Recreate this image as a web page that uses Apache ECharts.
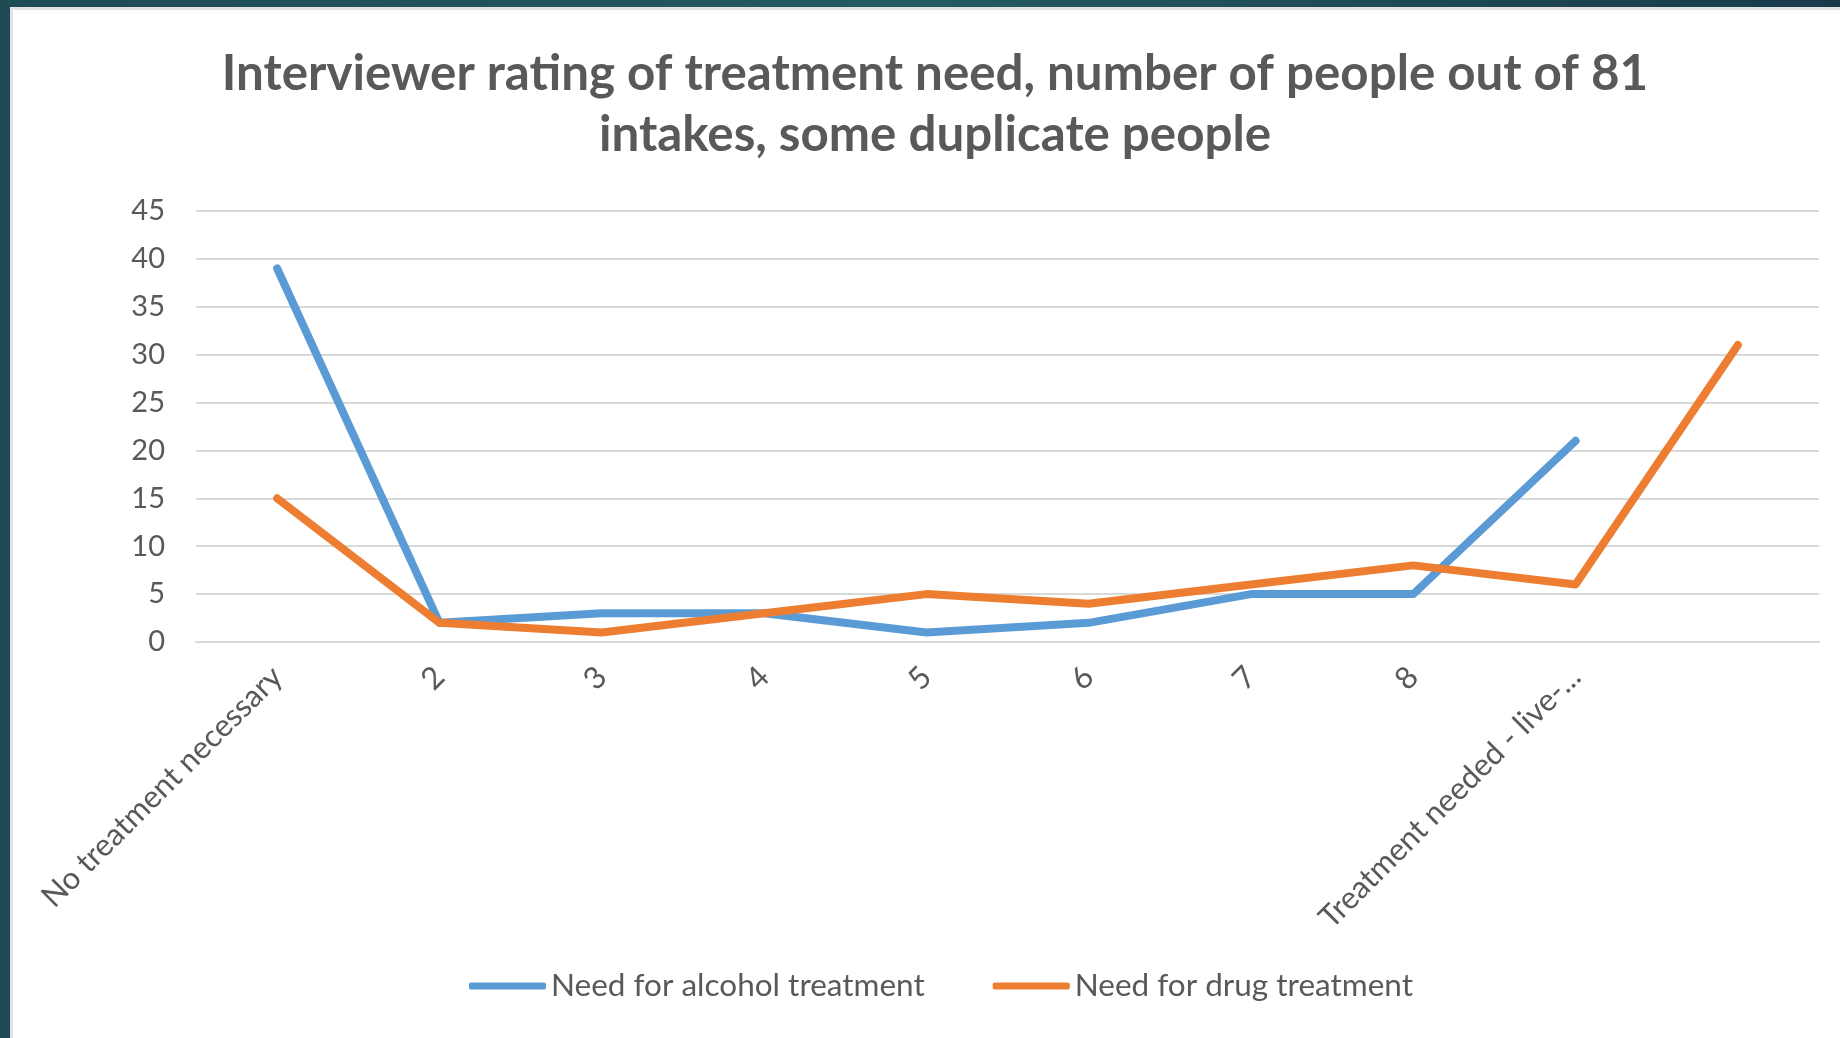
<!DOCTYPE html>
<html>
<head>
<meta charset="utf-8">
<script src="https://cdn.jsdelivr.net/npm/echarts@6/dist/echarts.min.js"></script>
<style>
  html, body { margin: 0; padding: 0; width: 1840px; height: 1038px; overflow: hidden; position: relative;
    background: linear-gradient(90deg, #1e4b55 0%, #245a60 50%, #173a4b 100%); }
  #paper { position: absolute; left: 10px; top: 7px; right: 0; bottom: 0; background: #ffffff;
    border-left: 3px solid #e3e3e3; border-top: 3px solid #e3e3e3; }
  #chart { position: absolute; left: 0; top: 0; width: 1870px; height: 1038px; }
</style>
</head>
<body>
<div id="paper"></div>
<div id="chart"></div>
<script>
const titleText = "Interviewer rating of treatment need, number of people out of 81\nintakes, some duplicate people";
const categories = ["No treatment necessary", "2", "3", "4", "5", "6", "7", "8", "Treatment needed - live-...", ""];
const seriesNames = ["Need for alcohol treatment", "Need for drug treatment"];
const alcoholValues = [39, 2, 3, 3, 1, 2, 5, 5, 21];
const drugValues = [15, 2, 1, 3, 5, 4, 6, 8, 6, 31];
const yTicks = { min: 0, max: 45, interval: 5 };

const chart = echarts.init(document.getElementById('chart'), null, { renderer: 'canvas' });
const FONT = 'Lato';
const TXT = '#595959';
chart.setOption({
  backgroundColor: 'transparent',
  animation: false,
  color: ['#5B9BD5', '#ED7D31'],
  title: {
    text: titleText,
    left: 'center',
    top: 44,
    padding: 0,
    textStyle: { fontFamily: FONT, fontWeight: 'bold', fontSize: 49.3, color: TXT, lineHeight: 61 }
  },
  legend: {
    bottom: 36,
    left: 469,
    padding: 0,
    itemWidth: 77,
    itemHeight: 7,
    itemGap: 68,
    icon: 'roundRect',
    data: seriesNames,
    textStyle: { fontFamily: FONT, fontSize: 31.5, color: TXT }
  },
  grid: { left: 196, right: 51, top: 211, bottom: 396, containLabel: false },
  xAxis: {
    type: 'category',
    data: categories,
    boundaryGap: true,
    axisLine: { show: true, lineStyle: { color: '#D9D9D9', width: 2 } },
    axisTick: { show: false },
    axisLabel: { rotate: 45, margin: 30, fontFamily: FONT, fontSize: 31, color: TXT, interval: 0 }
  },
  yAxis: {
    type: 'value',
    min: yTicks.min, max: yTicks.max, interval: yTicks.interval,
    axisLine: { show: false },
    axisTick: { show: false },
    splitLine: { lineStyle: { color: '#D9D9D9', width: 2 } },
    axisLabel: { margin: 31, fontFamily: FONT, fontSize: 29, color: TXT }
  },
  series: [
    { name: seriesNames[0], type: 'line', data: alcoholValues, symbol: 'none',
      lineStyle: { width: 8, cap: 'round', join: 'round' } },
    { name: seriesNames[1], type: 'line', data: drugValues, symbol: 'none',
      lineStyle: { width: 8, cap: 'round', join: 'round' } }
  ]
});
</script>
</body>
</html>
